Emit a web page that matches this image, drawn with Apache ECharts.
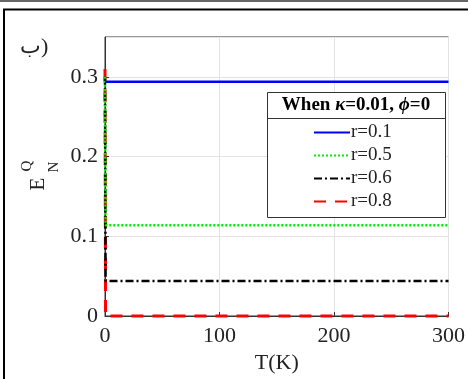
<!DOCTYPE html>
<html>
<head>
<meta charset="utf-8">
<script src="https://cdn.jsdelivr.net/npm/echarts@6/dist/echarts.min.js"></script>
<style>
html,body{margin:0;padding:0;background:#fff;}
#c{width:468px;height:379px;}
</style>
</head>
<body>
<div id="c"></div>
<script>
// Data
var seriesNames = ['r=0.1', 'r=0.5', 'r=0.6', 'r=0.8'];
var tempPoints = [0, 0.5, 300];
var r01 = [0.294, 0.294, 0.294];
var r05 = [0.300, 0.114, 0.114];
var r06 = [0.300, 0.044, 0.044];
var r08 = [0.310, 0.000, 0.000];
var xTicks = [0, 100, 200, 300];
var yTicks = [0, 0.1, 0.2, 0.3];

function pairs(vals) { return tempPoints.map(function (t, i) { return [t, vals[i]]; }); }

var serif = 'Liberation Serif';
var chart = echarts.init(document.getElementById('c'), null, {renderer: 'canvas'});

var styles = [
  {color: '#0000ff', width: 2.5, type: 'solid'},
  {color: '#00ee00', width: 2.5, type: [2, 2]},
  {color: '#000000', width: 2.5, type: [8, 3, 2, 3]},
  {color: '#ff0000', width: 3, type: [12, 9]}
];
var dataSets = [r01, r05, r06, r08];

chart.setOption({
  animation: false,
  backgroundColor: '#fff',
  grid: {left: 105, right: 17, top: 37, bottom: 63, show: true, borderColor: '#333', borderWidth: 1},
  xAxis: {
    type: 'value', min: 0, max: 300, interval: 100,
    name: 'T(K)', nameLocation: 'middle', nameGap: 36,
    nameTextStyle: {fontFamily: serif, fontSize: 22, color: '#222'},
    axisLine: {show: true, lineStyle: {color: '#333', width: 1}},
    axisTick: {show: true, inside: true, length: 4, lineStyle: {color: '#333'}},
    axisLabel: {fontFamily: serif, fontSize: 22, color: '#222', margin: 9,
      formatter: function (v) { return xTicks.indexOf(v) >= 0 ? String(v) : ''; }},
    splitLine: {show: true, lineStyle: {color: '#e3e3e3', width: 1}}
  },
  yAxis: {
    type: 'value', min: 0, max: 0.35, interval: 0.1,
    axisLine: {show: true, lineStyle: {color: '#333', width: 1}},
    axisTick: {show: true, inside: true, length: 4, lineStyle: {color: '#333'}},
    axisLabel: {fontFamily: serif, fontSize: 22, color: '#222', margin: 7, showMaxLabel: false,
      formatter: function (v) {
        var r = Math.round(v * 10) / 10;
        if (Math.abs(v - r) > 1e-6 || yTicks.indexOf(r) < 0) return '';
        return r === 0 ? '0' : r.toFixed(1);
      }},
    splitLine: {show: true, lineStyle: {color: '#e3e3e3', width: 1}}
  },
  legend: {
    orient: 'vertical', left: 313, top: 123, padding: 0, z: 50, zlevel: 1,
    itemWidth: 36, itemHeight: 20, itemGap: 4,
    itemStyle: {opacity: 0},
    data: seriesNames,
    textStyle: {fontFamily: serif, fontSize: 19, color: '#222', padding: [0, 0, 0, -4]}
  },
  series: seriesNames.map(function (n, i) {
    return {
      name: n, type: 'line', data: pairs(dataSets[i]), symbol: 'none', clip: false,
      lineStyle: styles[i], itemStyle: {color: styles[i].color}, z: 10 - i
    };
  }),
  graphic: [
    {type: 'line', shape: {x1: 0, y1: 1, x2: 468, y2: 1}, style: {stroke: '#666', lineWidth: 2}},
    {type: 'rect', shape: {x: 4, y: 9.5, width: 480, height: 400}, style: {fill: null, stroke: '#000', lineWidth: 2}},
    {type: 'text', left: 20, top: 36, style: {text: 'ب)', font: '22px "Liberation Serif"', fill: '#222'}},
    {type: 'rect', shape: {x: 267.5, y: 92.5, width: 178, height: 125}, style: {fill: '#fff', stroke: '#333', lineWidth: 1}, z: 5},
    {type: 'line', shape: {x1: 267.5, y1: 118.5, x2: 445.5, y2: 118.5}, style: {stroke: '#333', lineWidth: 1}, z: 6},
    {type: 'text', x: 356, y: 105, z: 6, style: {
      text: '{b|When }{i|κ}{b|=0.01, }{i|ϕ}{b|=0}', align: 'center', verticalAlign: 'middle',
      rich: {
        b: {fontFamily: serif, fontWeight: 'bold', fontSize: 19, fill: '#000'},
        i: {fontFamily: serif, fontStyle: 'italic', fontWeight: 'bold', fontSize: 19, fill: '#000'}
      }}},
    {type: 'text', x: 38, y: 184, rotation: Math.PI / 2, style: {text: 'E', font: '21px "Liberation Serif"', fill: '#222', align: 'center', verticalAlign: 'middle'}},
    {type: 'text', x: 54, y: 167, rotation: Math.PI / 2, style: {text: 'N', font: '15px "Liberation Serif"', fill: '#222', align: 'center', verticalAlign: 'middle'}},
    {type: 'text', x: 27, y: 166, rotation: Math.PI / 2, style: {text: 'Q', font: '15px "Liberation Serif"', fill: '#222', align: 'center', verticalAlign: 'middle'}}
  ]
});
</script>
</body>
</html>
